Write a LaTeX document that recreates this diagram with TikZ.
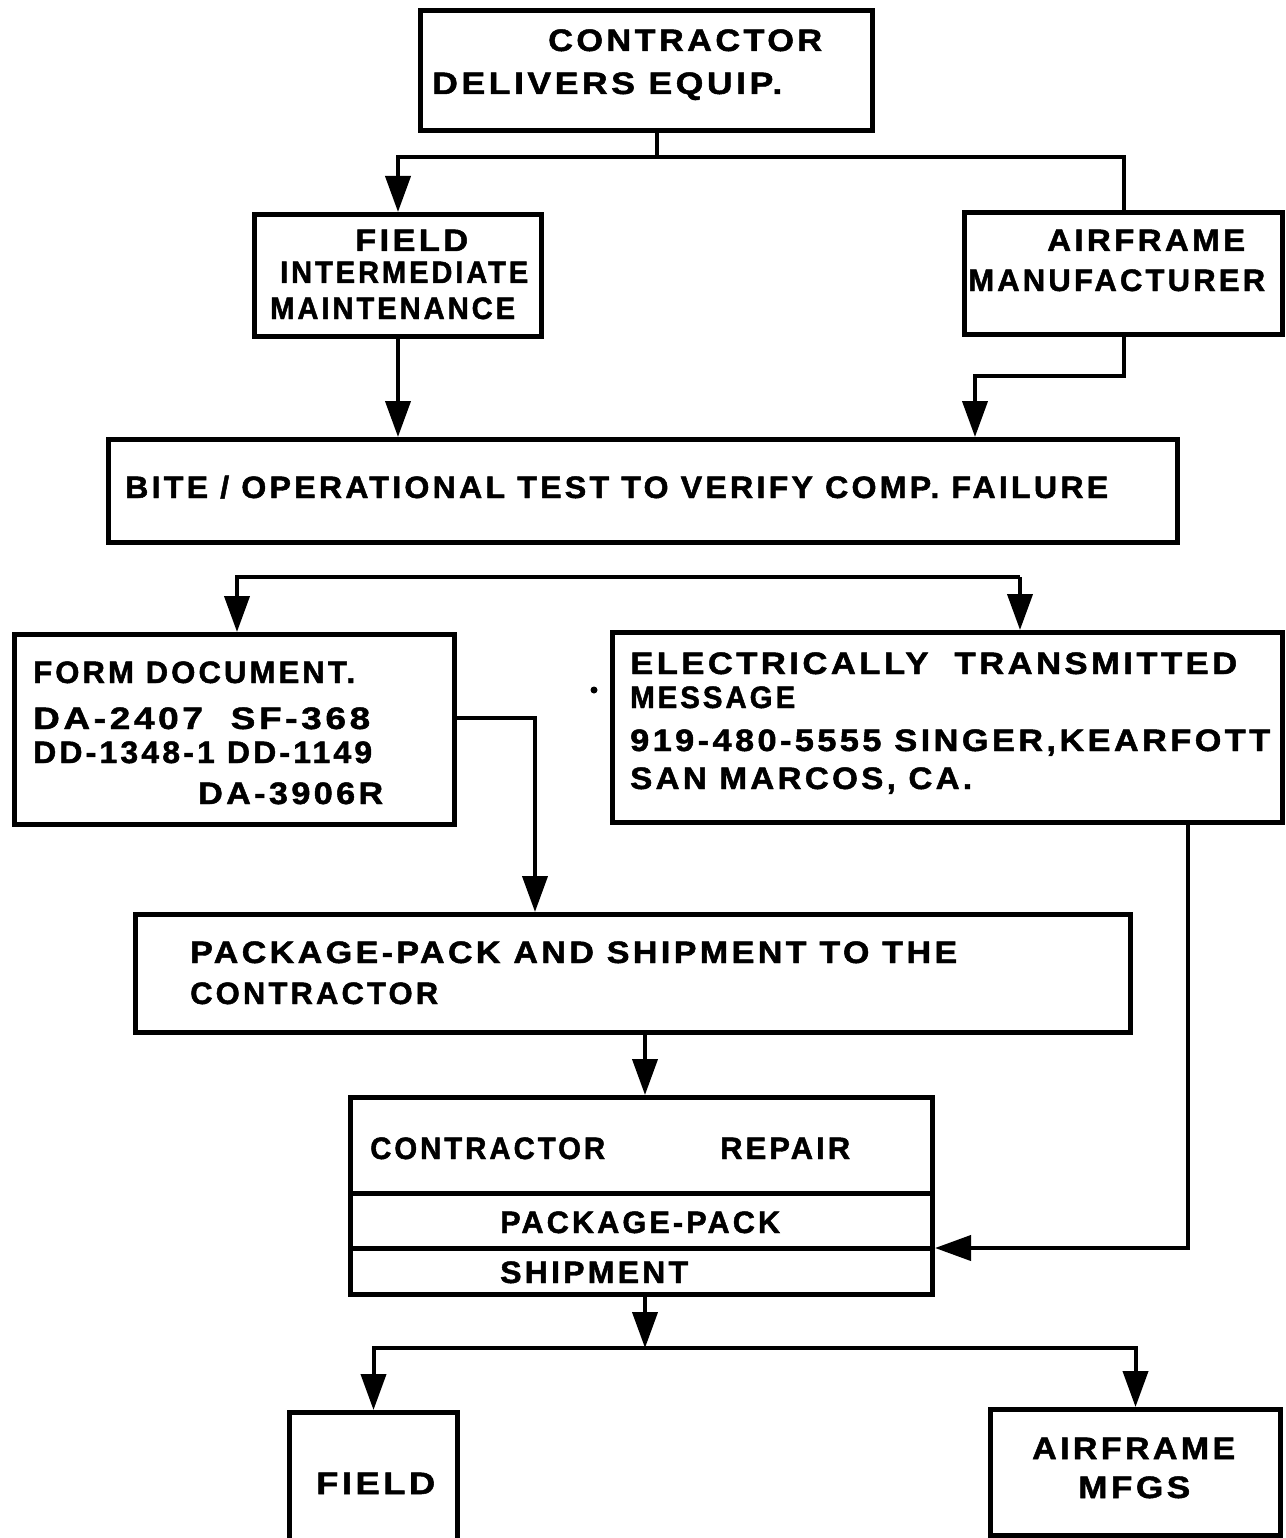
\documentclass[tikz,border=0pt]{standalone}
\usepackage{fontspec}
\usepackage{graphicx}
\setmainfont[LetterSpace=10,FakeBold=1.5]{Liberation Sans}
\usetikzlibrary{arrows.meta}
\newcommand\fw[2]{\resizebox{#1pt}{\height}{#2}}
\begin{document}
\begin{tikzpicture}[x=1pt,y=-1pt,
  box/.style={draw, line width=5pt, inner sep=0pt, anchor=north west},
  conn/.style={line width=4pt},
  arr/.style={line width=4pt, -{Triangle[length=36pt,width=25pt]}},
  lbl/.style={anchor=base west, inner sep=0pt, font=\fontsize{31}{33}\selectfont\bfseries}]
\useasboundingbox (0,0) rectangle (1285,1538);
\clip (0,0) rectangle (1285,1538);
\fill[white] (0,0) rectangle (1285,1538);
% boxes
\node[box, minimum width=452pt, minimum height=120pt] (top) at (418,8) {};
\node[box, minimum width=287pt, minimum height=122pt] (fim) at (252,212) {};
\node[box, minimum width=318pt, minimum height=122pt] (afm) at (962,210) {};
\node[box, minimum width=1069pt, minimum height=103pt] (bite) at (106,437) {};
\node[box, minimum width=440pt, minimum height=190pt] (form) at (12,632) {};
\node[box, minimum width=670pt, minimum height=190pt] (elec) at (610,630) {};
\node[box, minimum width=995pt, minimum height=118pt] (pkg) at (133,912) {};
\node[box, minimum width=582pt, minimum height=197pt] (rep) at (348,1095) {};
\node[box, minimum width=168pt, minimum height=160pt] (fld) at (287,1410) {};
\node[box, minimum width=290pt, minimum height=126pt] (mfg) at (988,1407) {};
\draw[line width=5pt] (rep.west |- 0,1193) coordinate (d1) -- (rep.east |- d1);
\draw[line width=5pt] (rep.west |- 0,1248) coordinate (d2) -- (rep.east |- d2);
% texts
\node[lbl] (t1) at (548,51) {\fw{274}{CONTRACTOR}};
\node[lbl] (t2) at (432,94) {\fw{350}{DELIVERS EQUIP.}};
\node[lbl] (t3) at (355,251) {\fw{113}{FIELD}};
\node[lbl] (t4) at (280,283) {\fw{248}{INTERMEDIATE}};
\node[lbl] (t5) at (270,319) {\fw{245}{MAINTENANCE}};
\node[lbl] (t6) at (1047,251) {\fw{198}{AIRFRAME}};
\node[lbl] (t7) at (968,291) {\fw{297}{MANUFACTURER}};
\node[lbl] (t8) at (125,498) {\fw{983}{BITE / OPERATIONAL TEST TO VERIFY COMP. FAILURE}};
\node[lbl] (t9) at (33,683) {\fw{322}{FORM DOCUMENT.}};
\node[lbl] (t10) at (33,729) {\fw{337}{DA-2407 \ SF-368}};
\node[lbl] (t11) at (33,763) {\fw{339}{DD-1348-1 DD-1149}};
\node[lbl] (t12) at (198,804) {\fw{185}{DA-3906R}};
\node[lbl] (t13) at (630,674) {\fw{607}{ELECTRICALLY \ TRANSMITTED}};
\node[lbl] (t14) at (630,708) {\fw{165}{MESSAGE}};
\node[lbl] (t15) at (630,751) {\fw{640}{919-480-5555 SINGER,KEARFOTT}};
\node[lbl] (t16) at (630,789) {\fw{342}{SAN MARCOS, CA.}};
\node[lbl] (t17) at (190,963) {\fw{767}{PACKAGE-PACK AND SHIPMENT TO THE}};
\node[lbl] (t18) at (190,1004) {\fw{248}{CONTRACTOR}};
\node[lbl] (t19) at (370,1159) {\fw{235}{CONTRACTOR}};
\node[lbl] (t20) at (720,1159) {\fw{130}{REPAIR}};
\node[lbl] (t21) at (500,1233) {\fw{280}{PACKAGE-PACK}};
\node[lbl] (t22) at (500,1283) {\fw{188}{SHIPMENT}};
\node[lbl] (t23) at (316,1494) {\fw{119}{FIELD}};
\node[lbl] (t24) at (1032,1459) {\fw{203}{AIRFRAME}};
\node[lbl] (t25) at (1078,1498) {\fw{112}{MFGS}};
% stray dot
\fill (594,690) circle (3.5pt);
% connectors
\coordinate (j1) at (657,157);
\draw[conn] (top.south -| j1) -- (j1);
\draw[arr] (j1) -| (fim.north);
\draw[conn] (j1) -| (afm.north);
\draw[arr] (fim.south) -- (fim.south |- bite.north);
\coordinate (k1) at (975,376);
\draw[arr] (afm.south) |- (k1) -- (k1 |- bite.north);
\coordinate (s1) at (237,577);
\coordinate (s2) at (1020,577);
\draw[arr] (s2) -- (s1) -- (s1 |- form.north);
\draw[arr] (s2) -- (s2 |- elec.north);
\coordinate (f1) at (535,718);
\draw[arr] (form.east |- f1) -- (f1) -- (f1 |- pkg.north);
\coordinate (e1) at (1188,1248);
\draw[arr] (elec.south -| e1) -- (e1) -- (e1 -| rep.east);
\coordinate (p1) at (645,1000);
\draw[arr] (pkg.south -| p1) -- (p1 |- rep.north);
\coordinate (j2) at (645,1348);
\draw[arr] (rep.south -| j2) -- (j2);
\draw[arr] (j2) -| (fld.north);
\draw[arr] (j2) -| (mfg.north);
\end{tikzpicture}
\end{document}
